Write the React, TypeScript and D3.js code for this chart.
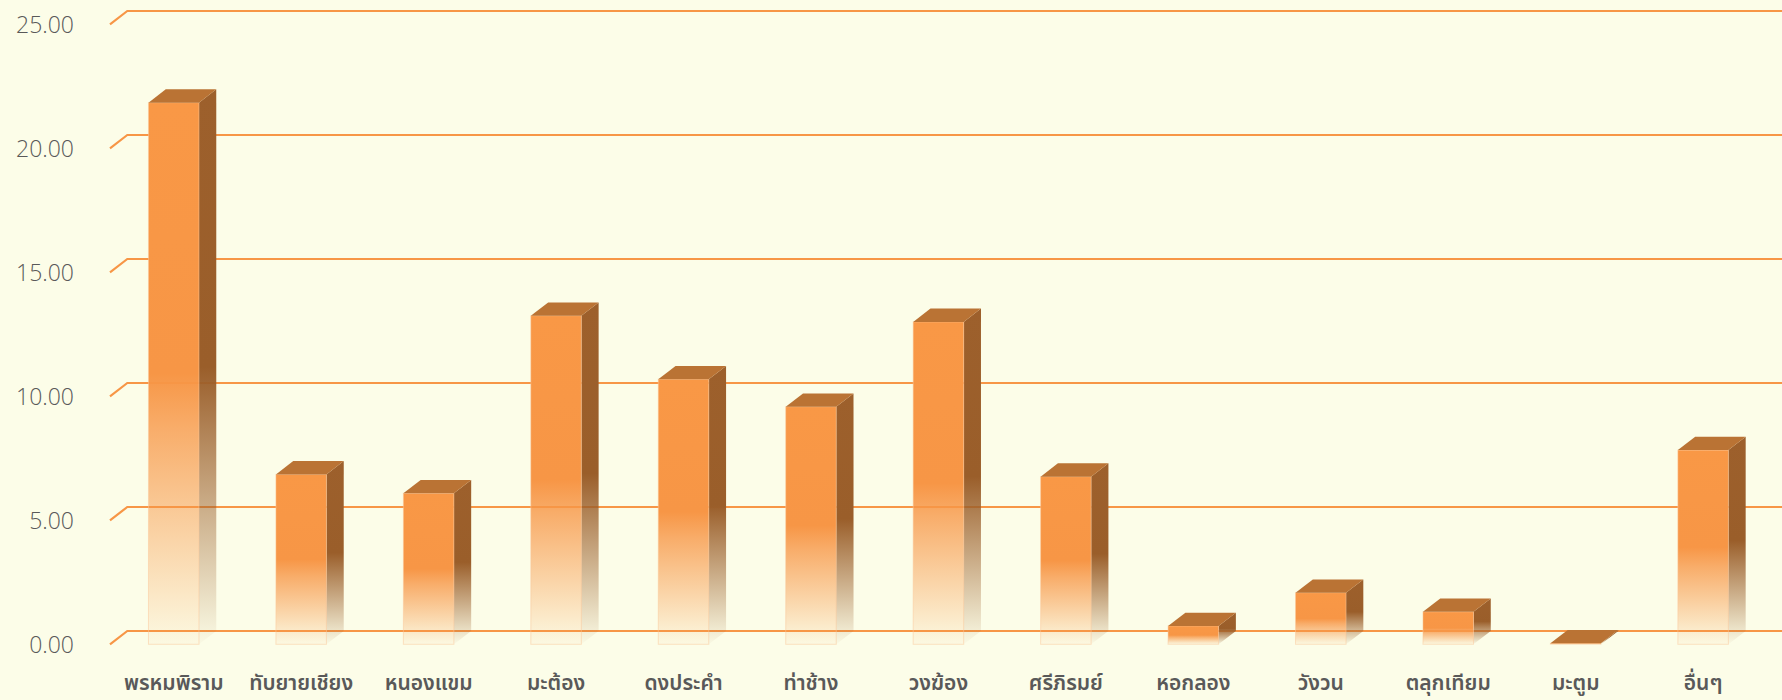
import React, { useEffect } from "react";
import * as d3 from "d3";

const categories = [
  "พรหมพิราม", "ทับยายเชียง", "หนองแขม", "มะต้อง", "ดงประคำ", "ท่าช้าง",
  "วงฆ้อง", "ศรีภิรมย์", "หอกลอง", "วังวน", "ตลุกเทียม", "มะตูม", "อื่นๆ",
];
const values = [21.84, 6.85, 6.09, 13.25, 10.69, 9.58, 13.0, 6.76, 0.74, 2.08, 1.31, 0.04, 7.83];
const yTicks = [0, 5, 10, 15, 20, 25];

const W = 1782;
const H = 700;
const DX = 17.3;
const DY = -13.3;
const BG = "#FCFDE8";
const ORANGE = "#F79646";

export default function App() {
  useEffect(() => {
    document.body.style.margin = "0";
    document.body.style.background = BG;
  }, []);

  const x = d3.scaleBand<string>().domain(categories).range([110, 110 + 127.45 * 13]).padding(0);
  const y = d3.scaleLinear().domain([0, 25]).range([644.3, 24.3]);
  const barW = 50.5;
  const fmt = d3.format(".2f");

  return (
    <svg width={W} height={H} style={{ display: "block", background: BG }}>
      <defs>
        <linearGradient id="gFront" x1="0" y1="0" x2="0" y2="1">
          <stop offset="0" stopColor="#F99846" stopOpacity={1} />
          <stop offset="0.5" stopColor="#F79646" stopOpacity={1} />
          <stop offset="0.6" stopColor="#F79646" stopOpacity={0.78} />
          <stop offset="1" stopColor="#F79646" stopOpacity={0.04} />
        </linearGradient>
        <linearGradient id="gSide" x1="0" y1="0" x2="0" y2="1">
          <stop offset="0" stopColor="#9D602C" stopOpacity={1} />
          <stop offset="0.5" stopColor="#9A5E2A" stopOpacity={1} />
          <stop offset="0.6" stopColor="#9A5E2A" stopOpacity={0.8} />
          <stop offset="1" stopColor="#9A5E2A" stopOpacity={0.02} />
        </linearGradient>
      </defs>
      <rect x={0} y={0} width={W} height={H} fill={BG} />
      {yTicks.map((t) => {
        const yf = y(t);
        return (
          <g key={t}>
            <path
              d={`M110,${yf} L${110 + DX},${yf + DY} L${W},${yf + DY}`}
              fill="none"
              stroke={ORANGE}
              strokeWidth={2.2}
            />
            <text
              x={74}
              y={yf}
              textAnchor="end"
              dominantBaseline="central"
              fontFamily="'Segoe UI', 'Open Sans', 'Noto Sans', sans-serif"
              fontWeight={300}
              fontSize={23}
              fill="#595959"
            >
              {fmt(t)}
            </text>
          </g>
        );
      })}
      {categories.map((c, i) => {
        const cx = (x(c) as number) + x.bandwidth() / 2;
        const x0 = cx - barW / 2;
        const x1 = cx + barW / 2;
        const yt = y(values[i]);
        const yb = y(0);
        const h = Math.max(yb - yt, 0.6);
        return (
          <g key={c}>
            <polygon
              points={`${x1},${yt} ${x1 + DX},${yt + DY} ${x1 + DX},${yb + DY} ${x1},${yb}`}
              fill="url(#gSide)"
            />
            <rect x={x0} y={yt} width={barW} height={h} fill="url(#gFront)" stroke="#FBC79A" strokeOpacity={0.5} strokeWidth={1} />
            <polygon
              points={`${x0},${yt} ${x0 + DX},${yt + DY} ${x1 + DX},${yt + DY} ${x1},${yt}`}
              fill="#BA7334"
            />
            <text
              x={cx}
              y={690}
              textAnchor="middle"
              fontFamily="'Leelawadee UI', 'Noto Sans Thai', 'Noto Sans', sans-serif"
              fontWeight={600}
              fontSize={21}
              fill="#595959"
            >
              {c}
            </text>
          </g>
        );
      })}
    </svg>
  );
}
